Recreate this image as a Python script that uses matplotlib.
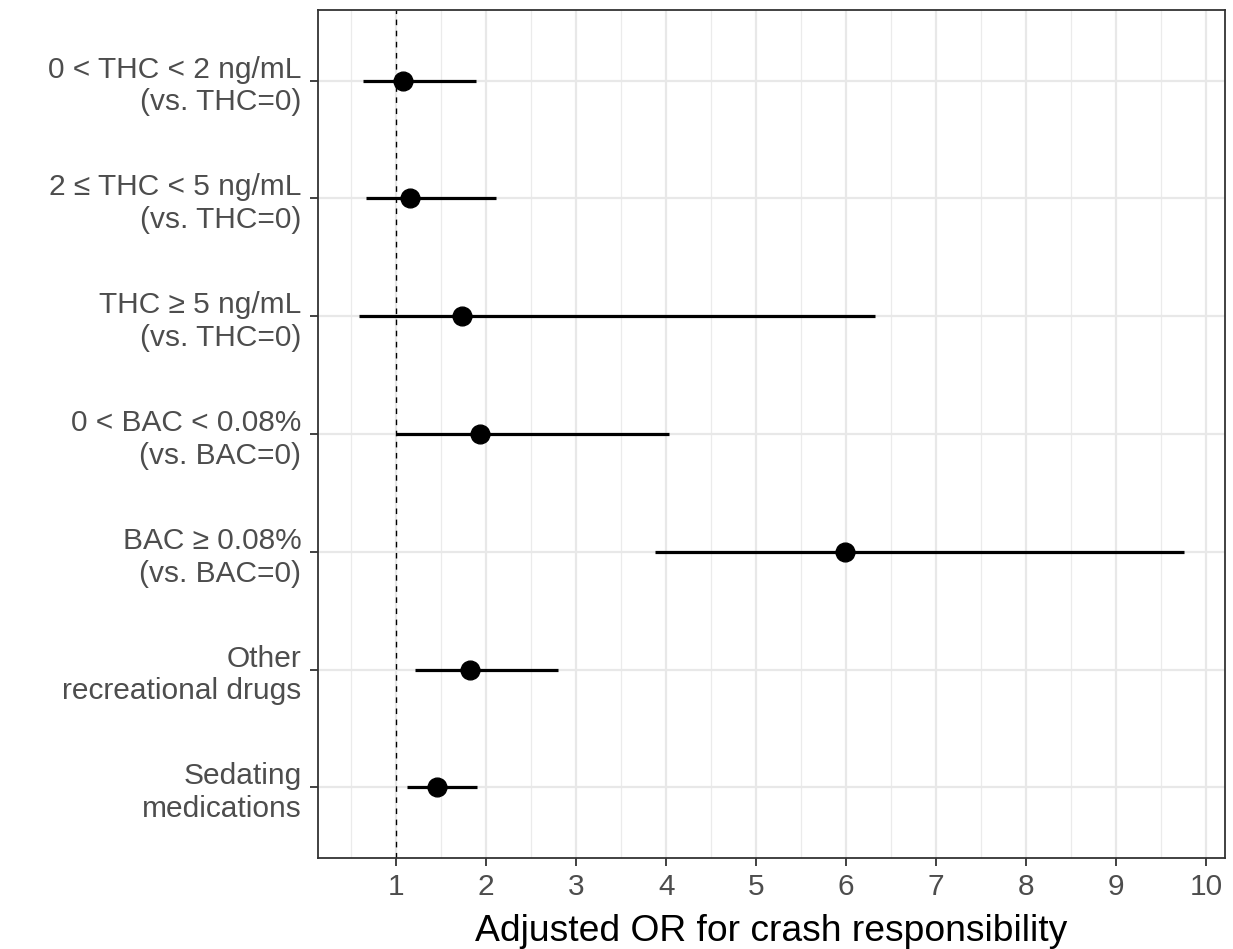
import matplotlib
matplotlib.use("Agg")
import matplotlib.pyplot as plt
import numpy as np

labels = ["0 < THC < 2 ng/mL\n(vs. THC=0)",
          "2 ≤ THC < 5 ng/mL\n(vs. THC=0)",
          "THC ≥ 5 ng/mL\n(vs. THC=0)",
          "0 < BAC < 0.08%\n(vs. BAC=0)",
          "BAC ≥ 0.08%\n(vs. BAC=0)",
          "Other\nrecreational drugs",
          "Sedating\nmedications"]
odds_ratio = [1.08, 1.15, 1.73, 1.93, 5.99, 1.82, 1.45]
ci_low = [0.63, 0.66, 0.59, 1.00, 3.88, 1.21, 1.12]
ci_high = [1.89, 2.11, 6.32, 4.03, 9.75, 2.80, 1.90]
x_ticks = [1, 2, 3, 4, 5, 6, 7, 8, 9, 10]

plt.rcParams['font.family'] = ['Liberation Sans', 'DejaVu Sans']

fig = plt.figure(figsize=(12.33, 9.49), dpi=100)
ax = fig.add_axes([0.258, 0.0959, 0.7355, 0.8936])

y = np.arange(len(labels))

# grid, ggplot theme_bw style
for v in x_ticks:
    ax.axvline(v, color='#E8E8E8', lw=1.6, zorder=0)
for v in np.arange(0.5, 10.5, 1):
    ax.axvline(v, color='#EBEBEB', lw=0.9, zorder=0)
for v in y:
    ax.axhline(v, color='#E8E8E8', lw=1.6, zorder=0)

ax.axvline(1, color='black', lw=1.0, ls=(0, (4, 4)), zorder=1)
ax.hlines(y, ci_low, ci_high, color='black', lw=2.3, zorder=2)
ax.plot(odds_ratio, y, 'o', color='black', ms=13.5, zorder=3)

lo, hi = min(ci_low), max(ci_high)
pad = 0.05 * (hi - lo)
ax.set_xlim(lo - pad, hi + pad)
ax.set_ylim(len(labels) - 1 + 0.6, -0.6)

ax.set_xticks(x_ticks)
ax.set_yticks(y)
ax.set_yticklabels(labels, ha='right', multialignment='right', linespacing=1.22)
ax.tick_params(axis='both', labelsize=21.5, labelcolor='#4D4D4D', color='#333333',
               length=6, width=1.3)
ax.tick_params(axis='x', pad=5)
ax.tick_params(axis='y', pad=6)

for s in ax.spines.values():
    s.set_color('#333333')
    s.set_linewidth(1.3)

ax.set_xlabel("Adjusted OR for crash responsibility", fontsize=26.8, color='black', labelpad=9)

fig.savefig("out.png", dpi=100)
